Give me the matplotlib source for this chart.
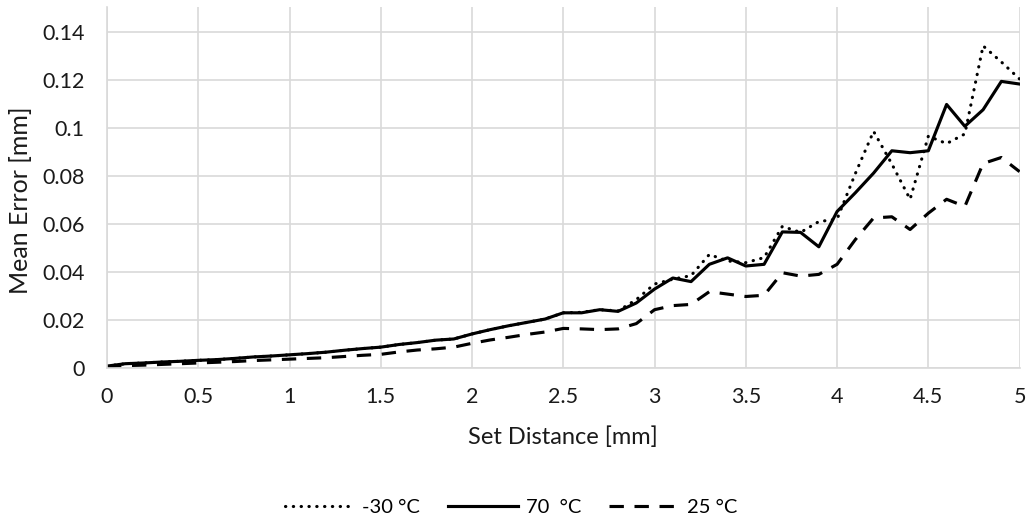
import numpy as np
import matplotlib
matplotlib.use("Agg")
import matplotlib.pyplot as plt

# set distance, step 0.1 mm
distance = np.round(np.arange(0, 5.01, 0.1), 1)

err_70 = [0.0008, 0.0018, 0.0021, 0.0025, 0.0028, 0.0032, 0.0035, 0.0040, 0.0046, 0.0050,
          0.0055, 0.0060, 0.0066, 0.0074, 0.0081, 0.0087, 0.0098, 0.0106, 0.0116, 0.0121,
          0.0142, 0.0160, 0.0176, 0.0190, 0.0204, 0.0230, 0.0230, 0.0243, 0.0236, 0.0271,
          0.0329, 0.0375, 0.0360, 0.0432, 0.0459, 0.0425, 0.0432, 0.0567, 0.0565, 0.0505,
          0.0652, 0.0730, 0.0812, 0.0905, 0.0897, 0.0905, 0.1098, 0.1007, 0.1076, 0.1194,
          0.1183]

err_m30 = [0.0008, 0.0018, 0.0021, 0.0025, 0.0028, 0.0032, 0.0035, 0.0040, 0.0046, 0.0050,
           0.0055, 0.0060, 0.0066, 0.0074, 0.0081, 0.0087, 0.0098, 0.0106, 0.0116, 0.0121,
           0.0142, 0.0160, 0.0176, 0.0190, 0.0204, 0.0230, 0.0232, 0.0243, 0.0238, 0.0285,
           0.0350, 0.0370, 0.0385, 0.0473, 0.0446, 0.0439, 0.0460, 0.0590, 0.0565, 0.0610,
           0.0620, 0.0810, 0.0986, 0.0850, 0.0703, 0.0966, 0.0935, 0.0975, 0.1342, 0.1275,
           0.1204]

err_25 = [0.0005, 0.0010, 0.0012, 0.0015, 0.0018, 0.0021, 0.0024, 0.0027, 0.0031, 0.0034,
          0.0037, 0.0040, 0.0043, 0.0048, 0.0053, 0.0057, 0.0067, 0.0075, 0.0080, 0.0087,
          0.0103, 0.0117, 0.0128, 0.0140, 0.0150, 0.0165, 0.0163, 0.0160, 0.0163, 0.0185,
          0.0243, 0.0260, 0.0265, 0.0318, 0.0308, 0.0298, 0.0303, 0.0397, 0.0383, 0.0390,
          0.0432, 0.0535, 0.0625, 0.0630, 0.0577, 0.0645, 0.0703, 0.0673, 0.0852, 0.0877,
          0.0818]

x_ticks = [0, 0.5, 1, 1.5, 2, 2.5, 3, 3.5, 4, 4.5, 5]
x_ticklabels = ["0", "0.5", "1", "1.5", "2", "2.5", "3", "3.5", "4", "4.5", "5"]
y_ticks = [0, 0.02, 0.04, 0.06, 0.08, 0.1, 0.12, 0.14]
y_ticklabels = ["0", "0.02", "0.04", "0.06", "0.08", "0.1", "0.12", "0.14"]

plt.rcParams['font.family'] = ['Lato', 'DejaVu Sans']

fig = plt.figure(figsize=(10.3, 5.25), dpi=100)
ax = fig.add_axes([0.1039, 0.299, 0.886, 0.6877])

lw = 2.25
ax.plot(distance, err_m30, color="black", lw=lw, linestyle=(0, (0.1, 2.4)),
        dash_capstyle="round", label="-30 °C")
ax.plot(distance, err_70, color="black", lw=lw, solid_joinstyle="round", label="70  °C")
ax.plot(distance, err_25, color="black", lw=lw, linestyle=(0, (4.6, 3.4)), label="25 °C")

ax.set_xlim(0, 5)
ax.set_ylim(0, 0.1504)
ax.set_xticks(x_ticks)
ax.set_xticklabels(x_ticklabels)
ax.set_yticks(y_ticks)
ax.set_yticklabels(y_ticklabels)
ax.tick_params(length=0, labelsize=15.5, colors="#1a1a1a")
ax.tick_params(axis="x", pad=14)
ax.tick_params(axis="y", pad=16)

ax.grid(True, color="#d9d9d9", lw=1.2)
ax.set_axisbelow(True)
for s in ["top", "right"]:
    ax.spines[s].set_visible(False)
for s in ["left", "bottom"]:
    ax.spines[s].set_color("#d9d9d9")
    ax.spines[s].set_linewidth(1.2)

ax.set_xlabel("Set Distance [mm]", fontsize=17, color="#1a1a1a", va="center")
ax.xaxis.set_label_coords(0.5, -0.191)
ax.set_ylabel("Mean Error [mm]", fontsize=18, color="#1a1a1a", va="center")
ax.yaxis.set_label_coords(-0.0953, 0.465)

fig.legend(loc="center", bbox_to_anchor=(0.496, 0.034), ncol=3, frameon=False,
           fontsize=14.5, handlelength=3.45, handletextpad=0.4, columnspacing=1.4)

fig.savefig("out.png", dpi=100)
